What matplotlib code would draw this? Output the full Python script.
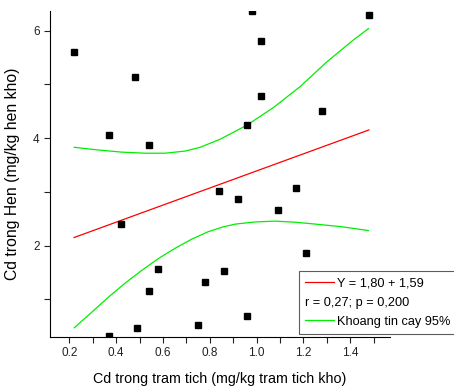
import numpy as np
import matplotlib.pyplot as plt
from matplotlib.lines import Line2D
from matplotlib.ticker import MultipleLocator

plt.rcParams['font.family'] = ['Liberation Sans', 'DejaVu Sans']

# scatter data (Cd in sediment vs Cd in clam)
x_sed = [0.22, 0.48, 0.37, 0.54, 0.98, 1.02, 1.02, 0.96, 1.28, 1.48,
         0.84, 0.92, 1.09, 1.17, 0.42, 1.21, 0.58, 0.86, 0.54, 0.78,
         0.96, 0.75, 0.49, 0.37]
y_hen = [5.60, 5.14, 4.06, 3.87, 6.37, 5.81, 4.78, 4.24, 4.51, 6.29,
         3.02, 2.87, 2.67, 3.07, 2.40, 1.86, 1.56, 1.52, 1.16, 1.32,
         0.69, 0.52, 0.46, 0.32]

# regression line
intercept = 1.80
slope = 1.59
x_fit = [0.22, 1.48]

# 95% confidence band
x_upper = [0.221, 0.324, 0.424, 0.524, 0.609, 0.695, 0.759, 0.844, 0.958,
           1.072, 1.186, 1.300, 1.414, 1.478]
y_upper = [3.83, 3.78, 3.74, 3.72, 3.72, 3.76, 3.83, 3.98, 4.24,
           4.57, 4.96, 5.42, 5.83, 6.04]
x_lower = [0.221, 0.296, 0.367, 0.438, 0.510, 0.581, 0.652, 0.723, 0.794,
           0.859, 0.909, 0.994, 1.080, 1.165, 1.251, 1.365, 1.478]
y_lower = [0.47, 0.76, 1.04, 1.30, 1.54, 1.76, 1.95, 2.12, 2.26,
           2.35, 2.40, 2.44, 2.455, 2.435, 2.40, 2.35, 2.28]

fig = plt.figure(figsize=(4.54, 3.89), dpi=100)
ax = fig.add_axes([0.110, 0.134, 0.749, 0.838])

ax.plot(x_sed, y_hen, 's', color='black', markersize=5, zorder=3)
y_fit = [intercept + slope * v for v in x_fit]
ax.plot(x_fit, y_fit, color='#ff0000', lw=0.9)
ax.plot(x_upper, y_upper, color='#00ee00', lw=0.9)
ax.plot(x_lower, y_lower, color='#00ee00', lw=0.9)

ax.set_xlim(0.117, 1.57)
ax.set_ylim(0.30, 6.37)
ax.xaxis.set_major_locator(MultipleLocator(0.2))
ax.xaxis.set_minor_locator(MultipleLocator(0.1))
ax.yaxis.set_major_locator(MultipleLocator(2))
ax.yaxis.set_minor_locator(MultipleLocator(1))
ax.tick_params(which='both', direction='out', length=4, width=0.8,
               labelsize=8.5, colors='#222222')
ax.spines['top'].set_visible(False)
ax.spines['right'].set_visible(False)

ax.set_xlabel('Cd trong tram tich (mg/kg tram tich kho)', fontsize=10.3, labelpad=9)
ax.set_ylabel('Cd trong Hen (mg/kg hen kho)', fontsize=11.3, labelpad=9)

fs_leg = 9.2
handles = [Line2D([], [], color='#ff0000', lw=0.9),
           Line2D([], [], color='none'),
           Line2D([], [], color='#00ee00', lw=0.9)]
labels = ['Y = 1,80 + 1,59', 'r = 0,27; p = 0,200', 'Khoang tin cay 95%']
leg = ax.legend(handles, labels, loc='lower left',
                bbox_to_anchor=(299 / 454, (389 - 334) / 389),
                bbox_transform=fig.transFigure, fontsize=fs_leg,
                frameon=True, fancybox=False, edgecolor='#333333',
                borderaxespad=0, handlelength=2.2, handletextpad=0.3,
                labelspacing=0.55, borderpad=0.5)
leg.get_frame().set_linewidth(0.8)
# middle row has no line, move its text back to where the line starts
shift_px = (2.2 + 0.3) * fs_leg * fig.dpi / 72
leg.get_texts()[1].set_x(-shift_px)

fig.savefig('out.png', dpi=100)
